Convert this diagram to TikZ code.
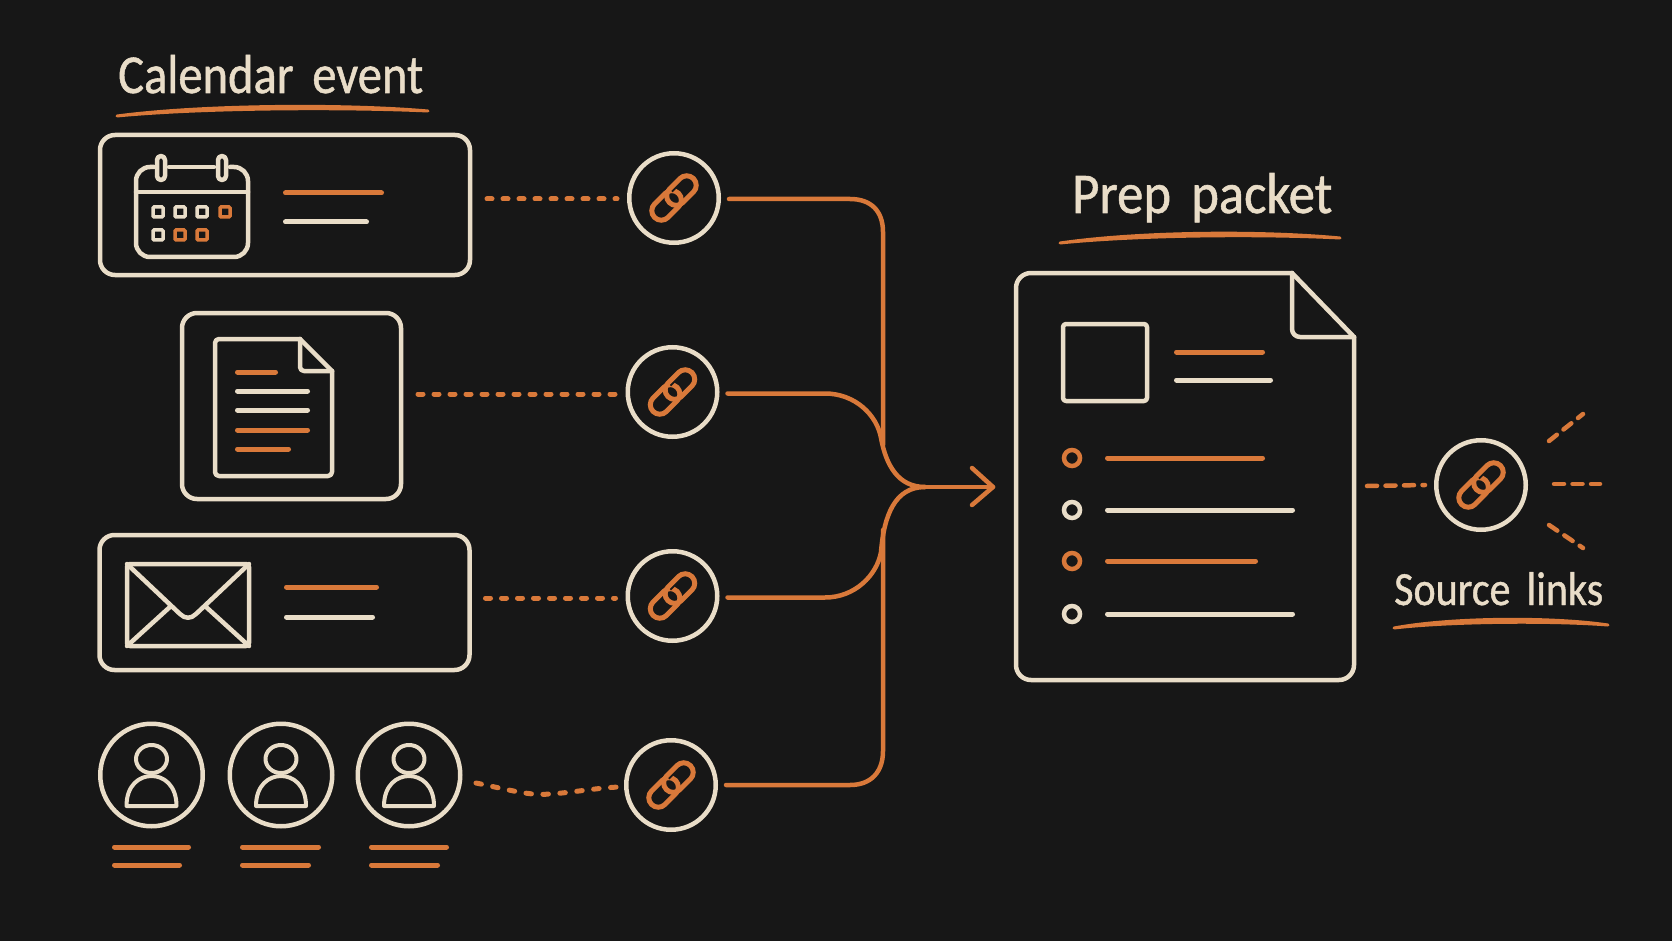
\documentclass[tikz,border=0pt]{standalone}
\usepackage{fontspec}
\setmainfont[WordSpace=1.7,FakeBold=1]{Carlito}
\definecolor{bgc}{HTML}{171717}
\definecolor{crm}{HTML}{E9DDC8}
\definecolor{org}{HTML}{D9793A}
\newcommand{\tl}[3]{\resizebox{#1pt}{#2pt}{\fontsize{48}{50}\selectfont #3}}
\tikzset{
  ln/.style={line width=4.5pt,line cap=round,line join=round},
  cr/.style={ln,draw=crm},
  og/.style={ln,draw=org},
  barc/.style={cr,line width=5pt,shorten <=2.5pt,shorten >=2.5pt},
  barg/.style={og,line width=5pt,shorten <=2.5pt,shorten >=2.5pt},
  box/.style={draw=crm,line width=4.5pt,rounded corners=15pt,inner sep=0pt,outer sep=0pt,anchor=north west},
  ring/.style={draw=crm,line width=4.5pt,circle,inner sep=0pt},
  dots/.style={draw=org,line width=5pt,line cap=round,dash pattern=on 5pt off 11pt},
  dashy/.style={draw=org,line width=4.5pt,line cap=round,dash pattern=on 10pt off 8.5pt},
  flow/.style={draw=org,line width=4.5pt,line cap=round,line join=round},
  ttl/.style={text=crm,inner sep=0pt,anchor=base west},
  under/.style={fill=org,draw=org,line width=3pt,line join=round},
  cell/.style={line width=3.5pt,rounded corners=1pt},
  linkicon/.pic={
    \begin{scope}[rotate=45]
      \draw[draw=org,line width=5pt] (-3,9.5) -- (-18,9.5) arc[start angle=90,end angle=270,radius=9.5] -- (-3,-9.5) arc[start angle=-90,end angle=90,radius=9.5];
      \draw[draw=bgc,line width=9pt] (3,-9.5) -- (8,-9.5);
      \draw[draw=org,line width=5pt,line cap=round] (3,-9.5) -- (18,-9.5) arc[start angle=-90,end angle=90,radius=9.5] -- (3,9.5) arc[start angle=90,end angle=270,radius=9.5];
    \end{scope}
  },
  person/.pic={
    \draw[cr,line width=4pt] (0,-16) circle[x radius=15.5,y radius=14];
    \draw[cr,line width=4pt] (-25,31) .. controls (-25,10) and (-12,1) .. (0,1) .. controls (12,1) and (25,10) .. (25,31) -- cycle;
  }
}
\begin{document}
\begin{tikzpicture}[x=1pt,y=-1pt]
\useasboundingbox[fill=bgc] (0,0) rectangle (1672,941);

% titles
\node[ttl] (t1) at (118,93) {\tl{305}{38}{Calendar event}};
\draw[under] (117,116) .. controls (200,105) and (340,103.5) .. (428,111) .. controls (340,107) and (200,108) .. (117,116) -- cycle;
\node[ttl] (t2) at (1072,213) {\tl{260}{40}{Prep packet}};
\draw[under] (1060,243) .. controls (1140,231.5) and (1260,230.5) .. (1340,238) .. controls (1260,234) and (1140,235) .. (1060,243) -- cycle;
\node[ttl] (t3) at (1394,605) {\tl{209}{33}{Source links}};
\draw[under] (1394,628) .. controls (1450,617.5) and (1550,616.5) .. (1608,625) .. controls (1550,620.5) and (1450,621.5) .. (1394,628) -- cycle;

% calendar box
\node[box,minimum width=370pt,minimum height=140pt] (cal) at (100,135) {};
\draw[cr,rounded corners=14pt] (154,167) -- (136,167) -- (136,257) -- (248,257) -- (248,167) -- (230,167);
\draw[cr] (169,167) -- (214,167);
\draw[cr] (136,192) -- (248,192);
\draw[cr,rounded corners=4pt] (157,156) rectangle (165,180);
\draw[cr,rounded corners=4pt] (218,156) rectangle (226,180);
\foreach \x/\y/\c in {158/212/crm,180/212/crm,202/212/crm,225/212/org,158/235/crm,180/235/org,202/235/org}
  \draw[draw=\c,cell] (\x-5,\y-5) rectangle (\x+5,\y+5);
\draw[barg] (283,193) -- (384,193);
\draw[barc] (283,222) -- (369,222);

% document box
\node[box,minimum width=219pt,minimum height=186pt] (docb) at (182,313) {};
\draw[cr,rounded corners=4pt] (300,339) -- (215,339) -- (215,476) -- (332,476) -- (332,371);
\draw[cr] (332,371) -- (300,339);
\draw[cr,rounded corners=4pt] (300,339) -- (300,371) -- (332,371);
\draw[barg] (235,372) -- (278,372);
\draw[barc] (235,391) -- (310,391);
\draw[barc] (235,410) -- (310,410);
\draw[barg] (235,430) -- (310,430);
\draw[barg] (235,449) -- (291,449);

% envelope box
\node[box,minimum width=370pt,minimum height=135pt] (env) at (99.5,535) {};
\draw[cr,rounded corners=3pt] (127,564) rectangle (249,646);
\draw[cr] (127,564) -- (180,614) .. controls (185,619) and (191,619) .. (196,614) -- (249,564);
\draw[cr] (127,646) -- (171,606);
\draw[cr] (249,646) -- (205,606);
\draw[barg] (284,587) -- (379,587);
\draw[barc] (284,617) -- (375,617);

% people
\foreach \n/\x in {p1/151.5,p2/281,p3/409}{
  \node[ring,minimum size=102.5pt] (\n) at (\x,775) {};
  \pic at (\x,775) {person};
}
\foreach \a/\b/\c in {112/191/182,240/321/311,369/449/440}{
  \draw[barg] (\a,847) -- (\b,847);
  \draw[barg] (\a,865) -- (\c,865);
}

% link circles
\foreach \n/\x/\y in {l1/674/198,l2/672.5/392,l3/672.5/596,l4/671/785,l5/1481/485}{
  \node[ring,minimum size=89.5pt] (\n) at (\x,\y) {};
  \pic at (\x,\y) {linkicon};
}

% dotted connectors
\draw[dots] ([xshift=17pt,yshift=-1pt]cal.east |- l1) -- ([xshift=-10pt,yshift=-1pt]l1.west);
\draw[dots] ([xshift=17pt,yshift=-2pt]docb.east |- l2) -- ([xshift=-10pt,yshift=-2pt]l2.west);
\draw[dots] ([xshift=16pt,yshift=-2pt]env.east |- l3) -- ([xshift=-10pt,yshift=-2pt]l3.west);
\coordinate (p3out) at (476,783);
\draw[dots,dash pattern=on 5.5pt off 11.5pt] (p3out) .. controls (510,790) and (530,796) .. (549,794) .. controls (570,793) and (595,788) .. ([xshift=-5pt,yshift=-2pt]l4.west);

% merged flow
\coordinate (tip) at (993,487);
\draw[flow] ([xshift=8pt,yshift=-1pt]l1.east) -- (850,199) .. controls (871,199) and (883,211) .. (883,232) -- (883,445);
\draw[flow] ([xshift=8pt,yshift=-1.5pt]l2.east) -- (825,393.5) .. controls (855,393.5) and (877,415) .. (881,438) .. controls (886,465) and (898,487) .. (925,487);
\draw[flow] ([xshift=8pt,yshift=-1.5pt]l3.east) -- (825,597.5) .. controls (855,597.5) and (877,575) .. (881,552) .. controls (884,515) and (895,487) .. (925,487);
\draw[flow] ([xshift=8pt]l4.east) -- (850,785) .. controls (871,785) and (883,772) .. (883,751) -- (883,530);
\draw[flow] (925,487) -- (tip);
\draw[flow] (972,468) -- (tip) -- (972,505);

% prep packet
\draw[cr,rounded corners=15pt] (1292,273) -- (1016,273) -- (1016,680) -- (1354,680) -- (1354,337);
\draw[cr] (1354,337) -- (1292,273);
\draw[cr,rounded corners=8pt] (1292,273) -- (1292,337) -- (1354,337);
\draw[cr,rounded corners=3pt] (1063,324) rectangle (1147,401);
\draw[barg] (1174,352) -- (1265,352);
\draw[barc] (1174,380) -- (1273,380);
\foreach \n/\y/\c/\e in {b1/458/org/1265,b2/510/crm/1295,b3/561/org/1258,b4/614/crm/1295}{
  \node[draw=\c,line width=4.5pt,circle,inner sep=0pt,minimum size=16pt] (\n) at (1072,\y) {};
  \draw[ln,line width=5pt,shorten <=2.5pt,shorten >=2.5pt,draw=\c] (1105,\y) -- (\e,\y);
}

% source link dashes
\draw[dashy] (1367,486) -- ([xshift=-9pt]l5.west);
\coordinate (r1) at (1554,484); \coordinate (r2) at (1600,484);
\coordinate (u1) at (1549,441); \coordinate (u2) at (1583,414);
\coordinate (d1) at (1549,525); \coordinate (d2) at (1583,548);
\draw[dashy] (r1) -- (r2);
\draw[dashy] (u1) -- (u2);
\draw[dashy] (d1) -- (d2);
\end{tikzpicture}
\end{document}
